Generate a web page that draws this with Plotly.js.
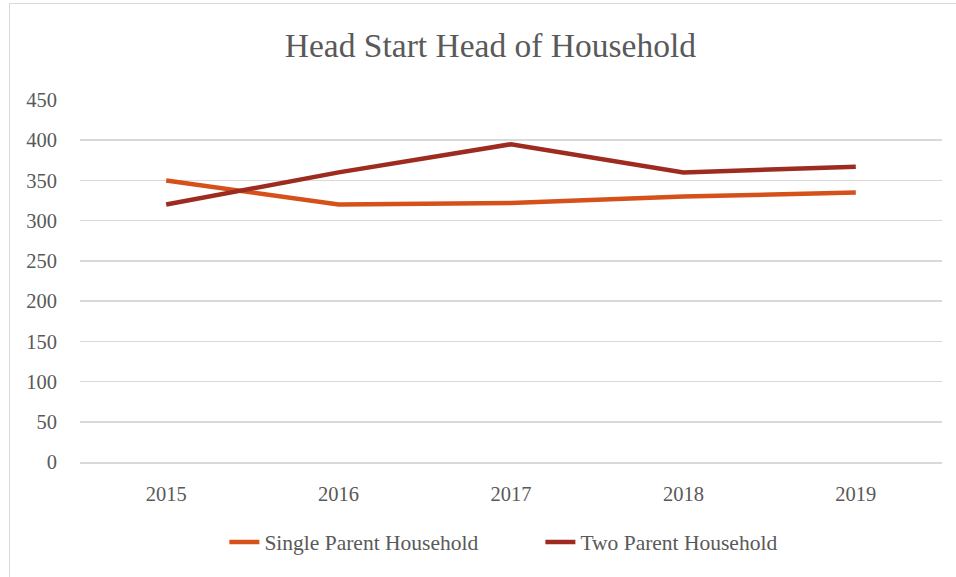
<!DOCTYPE html>
<html>
<head>
<meta charset="utf-8">
<script src="https://cdn.plot.ly/plotly-3.0.1.min.js"></script>
<style>
html,body{margin:0;padding:0;background:#fff;}
#wrap{position:relative;width:956px;height:577px;overflow:hidden;}
#frame{position:absolute;left:9px;top:3px;width:1000px;height:700px;border-left:1.5px solid #d9d9d9;border-top:1.5px solid #d9d9d9;pointer-events:none;}
#chart{position:absolute;left:0;top:0;width:956px;height:577px;}
</style>
</head>
<body>
<div id="wrap">
<div id="chart"></div>
<div id="frame"></div>
</div>
<script>
const years = ["2015", "2016", "2017", "2018", "2019"];
const singleParent = [350, 320, 322, 330, 335];
const twoParent = [320, 360, 395, 360, 367];
const yTicks = [0, 50, 100, 150, 200, 250, 300, 350, 400, 450];

const font = "'Liberation Serif', 'Times New Roman', serif";

const traces = [
  {x: years, y: singleParent, name: "Single Parent Household", type: "scatter", mode: "lines",
   line: {color: "#D6511A", width: 4.5}},
  {x: years, y: twoParent, name: "Two Parent Household", type: "scatter", mode: "lines",
   line: {color: "#9E2B1F", width: 4.5}}
];

const layout = {
  width: 956, height: 577,
  margin: {l: 80, r: 14, t: 100, b: 115},
  paper_bgcolor: "rgba(0,0,0,0)", plot_bgcolor: "#fff",
  font: {family: font, color: "#595959", size: 20},
  title: {text: "Head Start Head of Household", font: {family: font, size: 33.5, color: "#595959"},
          x: 0.513, xanchor: "center", y: 0.922, yanchor: "middle"},
  xaxis: {type: "category", range: [-0.5, 4.5], showgrid: false, zeroline: false,
          showline: true, linecolor: "#d9d9d9", linewidth: 1.5, ticks: "",
          ticklabelstandoff: 13, tickfont: {size: 20.5, color: "#595959"}, fixedrange: true},
  yaxis: {range: [0, 450], tickvals: yTicks, showgrid: true, gridcolor: "#d9d9d9", gridwidth: 1.5,
          zeroline: false, showline: false, ticks: "", ticklabelstandoff: 22,
          tickfont: {size: 20.5, color: "#595959"}, fixedrange: true},
  showlegend: true,
  legend: {orientation: "h", x: 0.1675, xanchor: "left", y: -0.221, yanchor: "middle",
           entrywidth: 271, entrywidthmode: "pixels",
           font: {size: 21.5, color: "#595959", family: font}, itemwidth: 30, traceorder: "normal"}
};

Plotly.newPlot("chart", traces, layout, {displayModeBar: false, staticPlot: true});
</script>
</body>
</html>
